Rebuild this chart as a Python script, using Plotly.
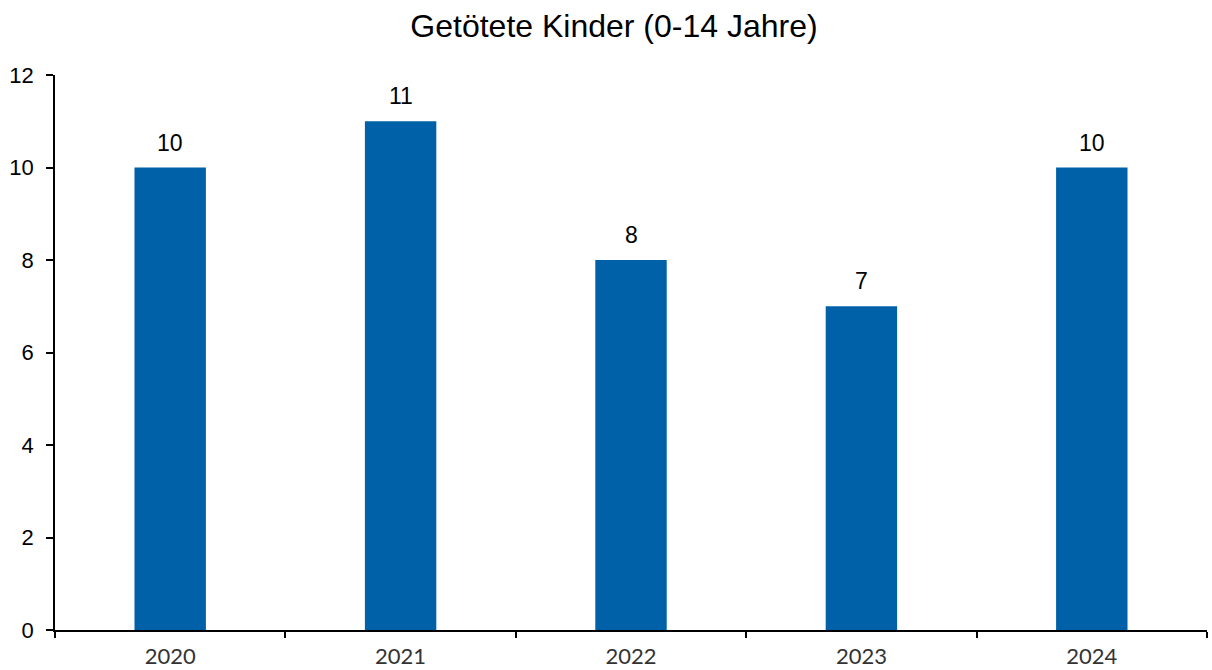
import plotly.graph_objects as go

years = ["2020", "2021", "2022", "2023", "2024"]
killed_children = [10, 11, 8, 7, 10]
y_ticks = [0, 2, 4, 6, 8, 10, 12]

fig = go.Figure(
    go.Bar(
        x=years,
        y=killed_children,
        width=0.31,
        marker=dict(color="#0060A8", line=dict(width=0)),
        hoverinfo="x+y",
    )
)

# value labels above each bar, taken from the same data
# (category axes position annotations by category index)
for idx, value in enumerate(killed_children):
    fig.add_annotation(
        x=idx,
        y=value,
        xref="x",
        yref="y",
        text=str(value),
        showarrow=False,
        yanchor="middle",
        yshift=25,
        font=dict(family="Liberation Sans, Arial", size=23, color="#000000"),
    )

fig.update_layout(
    width=1212,
    height=670,
    margin=dict(l=55, r=5, t=75, b=40, autoexpand=False),
    paper_bgcolor="white",
    plot_bgcolor="white",
    showlegend=False,
    title=dict(
        text="Getötete Kinder (0-14 Jahre)",
        x=0.5066,
        xanchor="center",
        y=0.961,
        yanchor="middle",
        font=dict(family="Liberation Sans, Arial", size=32, color="#000000"),
    ),
)

fig.update_xaxes(
    type="category",
    categoryorder="array",
    categoryarray=years,
    range=[-0.5, len(years) - 0.5],
    automargin=False,
    showgrid=False,
    showline=True,
    linecolor="#000000",
    linewidth=1.5,
    ticks="outside",
    tickson="boundaries",
    ticklen=6,
    tickwidth=1.5,
    tickcolor="#000000",
    tickangle=0,
    tickfont=dict(family="Lato, Open Sans", size=22, color="#333333"),
    ticklabelstandoff=6,
    fixedrange=True,
)

fig.update_yaxes(
    range=[0, 12],
    tickvals=y_ticks,
    automargin=False,
    showgrid=False,
    zeroline=False,
    showline=True,
    linecolor="#000000",
    linewidth=1.5,
    ticks="outside",
    ticklen=7,
    tickwidth=1.5,
    tickcolor="#000000",
    tickfont=dict(family="Liberation Sans, Arial", size=22, color="#000000"),
    ticklabelstandoff=8,
    fixedrange=True,
)

fig.write_html("out.html")
